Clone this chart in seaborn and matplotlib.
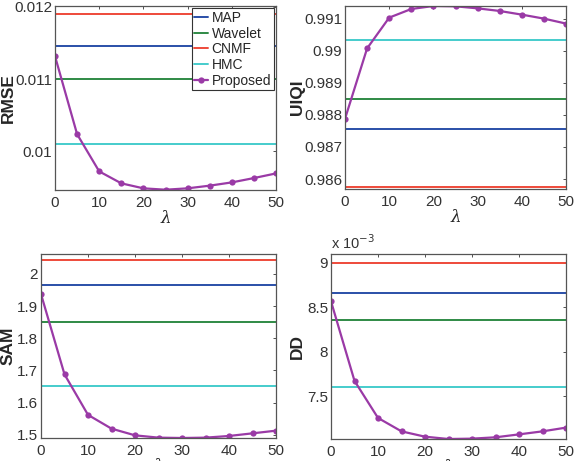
import matplotlib
matplotlib.use("Agg")
import matplotlib.pyplot as plt
import seaborn as sns
import pandas as pd

# lambda values
lam = [0, 5, 10, 15, 20, 25, 30, 35, 40, 45, 50]

methods = ["MAP", "Wavelet", "CNMF", "HMC"]
colors = {"MAP": "#2a4fa8", "Wavelet": "#2f8a45", "CNMF": "#ee4a3a",
          "HMC": "#45cccc", "Proposed": "#9a3aa6"}

# baseline values (constant in lambda)
rmse_base = [0.011462, 0.011000, 0.011897, 0.010104]
uiqi_base = [0.987555, 0.988503, 0.985752, 0.990342]
sam_base = [1.9647, 1.8492, 2.0425, 1.6523]
dd_base = [8.665, 8.353, 9.000, 7.609]  # x 10^-3

# proposed method
rmse_prop = [0.011317, 0.010239, 0.009725, 0.009560, 0.009491, 0.009472,
             0.009491, 0.009528, 0.009573, 0.009633, 0.009697]
uiqi_prop = [0.987876, 0.990072, 0.991031, 0.991300, 0.991393, 0.991383,
             0.991320, 0.991238, 0.991124, 0.991000, 0.990845]
sam_prop = [1.9373, 1.6876, 1.5616, 1.5187, 1.4979, 1.4907,
            1.4896, 1.4907, 1.4959, 1.5041, 1.5124]
dd_prop = [8.568, 7.673, 7.256, 7.105, 7.045, 7.019,
           7.023, 7.038, 7.071, 7.105, 7.147]

sns.set_style("white")
plt.rcParams['font.family'] = ['Liberation Sans', 'DejaVu Sans']
plt.rcParams['font.size'] = 11

fig = plt.figure(figsize=(5.8, 4.61), dpi=100)
W, H = 580, 461


def make_ax(x0, y0, x1, y1):
    return fig.add_axes([x0 / W, 1 - y1 / H, (x1 - x0) / W, (y1 - y0) / H])


def draw(ax, base, prop, ylim, yticks, yticklabels, ylabel, label_x,
         legend=False):
    for m, v in zip(methods, base):
        df = pd.DataFrame({"lam": lam, "val": [v] * len(lam)})
        sns.lineplot(data=df, x="lam", y="val", ax=ax, color=colors[m],
                     linewidth=1.4, label=m)
    dfp = pd.DataFrame({"lam": lam, "val": prop})
    sns.lineplot(data=dfp, x="lam", y="val", ax=ax, color=colors["Proposed"],
                 linewidth=1.6, marker="o", markersize=4.5,
                 markeredgewidth=0, label="Proposed")
    ax.set_xlim(0, 50)
    ax.set_ylim(*ylim)
    ax.set_xticks([0, 10, 20, 30, 40, 50])
    ax.set_yticks(yticks)
    ax.set_yticklabels(yticklabels)
    ax.set_xlabel("λ", fontsize=12, family=['DejaVu Serif'], style='italic',
                  labelpad=0)
    ax.set_ylabel(ylabel, fontsize=12.5, fontweight="bold")
    # right edge of the rotated ylabel at a fixed pixel column
    pos = ax.get_position()
    ax.yaxis.set_label_coords((label_x / W - pos.x0) / pos.width, 0.5)
    ax.tick_params(direction="in", length=2, width=0.6, colors="#333333",
                   labelsize=11, pad=2, top=True, right=True)
    ax.tick_params(axis="x", pad=4)
    for s in ax.spines.values():
        s.set_color("#555555")
        s.set_linewidth(0.9)
    if legend:
        leg = ax.legend(loc="upper right", fontsize=10, handlelength=1.0,
                        handletextpad=0.25, labelspacing=0.12, borderpad=0.2,
                        borderaxespad=0.15, fancybox=False, framealpha=1,
                        edgecolor="#333333")
        leg.get_frame().set_linewidth(0.8)
    else:
        ax.get_legend().remove()


ax1 = make_ax(55, 6, 276, 190)
draw(ax1, rmse_base, rmse_prop, (0.009468, 0.01201), [0.01, 0.011, 0.012],
     ["0.01", "0.011", "0.012"], "RMSE", 16, legend=True)

ax2 = make_ax(345, 6, 566, 189)
draw(ax2, uiqi_base, uiqi_prop, (0.98569, 0.991393),
     [0.986, 0.987, 0.988, 0.989, 0.99, 0.991],
     ["0.986", "0.987", "0.988", "0.989", "0.99", "0.991"], "UIQI", 305)

ax3 = make_ax(41, 254, 276, 438)
draw(ax3, sam_base, sam_prop, (1.4896, 2.062), [1.5, 1.6, 1.7, 1.8, 1.9, 2.0],
     ["1.5", "1.6", "1.7", "1.8", "1.9", "2"], "SAM", 16)

ax4 = make_ax(331, 254, 566, 439)
draw(ax4, dd_base, dd_prop, (7.019, 9.1), [7.5, 8, 8.5, 9],
     ["7.5", "8", "8.5", "9"], "DD", 305)
ax4.text(0, 1.01, "x 10$^{-3}$", transform=ax4.transAxes, fontsize=10.5,
         va="bottom", ha="left", color="#333333")

fig.savefig("out.png", dpi=100)
